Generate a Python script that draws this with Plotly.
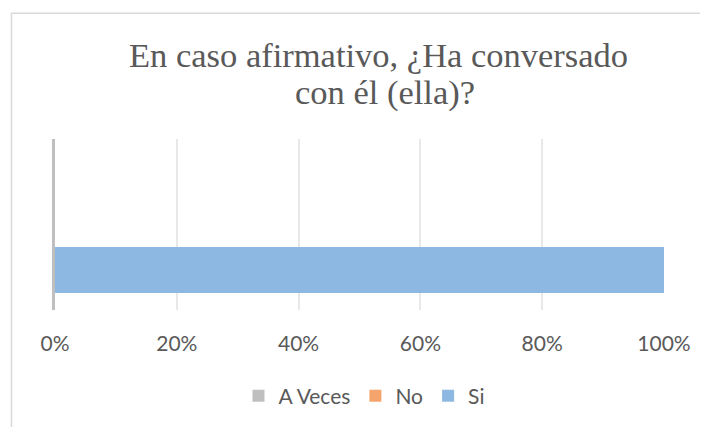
import plotly.graph_objects as go

# ---- data ----
categories = ["¿Ha conversado con él (ella)?"]
series_names = ["A Veces", "No", "Si"]
a_veces = [0.0]
no = [0.0]
si = [1.0]
x_ticks = [0, 0.2, 0.4, 0.6, 0.8, 1.0]
x_tick_labels = ["0%", "20%", "40%", "60%", "80%", "100%"]
title_lines = ["En caso afirmativo, ¿Ha conversado", "con él (ella)?"]

colors = {"A Veces": "#bfbfbf", "No": "#f4a46c", "Si": "#8cb8e2"}
values = {"A Veces": a_veces, "No": no, "Si": si}

fig = go.Figure()
for name in series_names:
    fig.add_trace(go.Bar(
        y=categories, x=values[name], name=name, orientation="h",
        marker=dict(color=colors[name], line=dict(width=0)),
        hoverinfo="x+name",
    ))

# page body has an 8px margin, so work in figure coordinates = screen - 8
OFF = 8
W, H = 708 - OFF, 427 - OFF
L, R, T, B = 55 - OFF, 44, 139 - OFF, 116
pw, ph = W - L - R, H - T - B

def px2paper_x(px):  # px in screen coords
    return (px - OFF - L) / pw

def px2paper_y(py):  # py in screen coords
    return (H - B - (py - OFF)) / ph

title_font = dict(family="Liberation Serif", size=34.5, color="#595959")

fig.update_layout(
    width=W, height=H,
    margin=dict(l=L, r=R, t=T, b=B, pad=0),
    barmode="stack",
    bargap=0.465,
    paper_bgcolor="white",
    plot_bgcolor="white",
    xaxis=dict(
        range=[0, 1],
        tickvals=x_ticks, ticktext=x_tick_labels,
        showgrid=True, gridcolor="#e8e8e8", gridwidth=1.5,
        zeroline=False, showline=False,
        ticks="outside", ticklen=15, tickcolor="rgba(0,0,0,0)",
        tickfont=dict(family="Lato", size=21, color="#595959"),
        fixedrange=True,
    ),
    yaxis=dict(
        type="category",
        range=[-0.465, 1.535],
        showticklabels=False, showgrid=False, zeroline=False,
        showline=True, linecolor="#bfbfbf", linewidth=3,
        fixedrange=True,
    ),
    legend=dict(
        orientation="h",
        x=px2paper_x(364), xanchor="center",
        y=px2paper_y(396), yanchor="middle",
        font=dict(family="Lato", size=21, color="#595959"),
        traceorder="normal",
        itemclick=False,
    ),
    showlegend=True,
    annotations=[
        dict(text=title_lines[0], xref="paper", yref="paper",
             x=px2paper_x(378.5), y=px2paper_y(55), xanchor="center", yanchor="middle",
             showarrow=False, font=title_font),
        dict(text=title_lines[1], xref="paper", yref="paper",
             x=px2paper_x(385), y=px2paper_y(92.5), xanchor="center", yanchor="middle",
             showarrow=False, font=title_font),
    ],
    shapes=[dict(
        type="rect", xref="paper", yref="paper",
        x0=px2paper_x(11.5), x1=px2paper_x(760),
        y0=px2paper_y(470), y1=px2paper_y(12.5),
        line=dict(color="#d9d9d9", width=1.5),
        fillcolor="rgba(0,0,0,0)", layer="below",
    )],
)

fig.write_html("out.html")
